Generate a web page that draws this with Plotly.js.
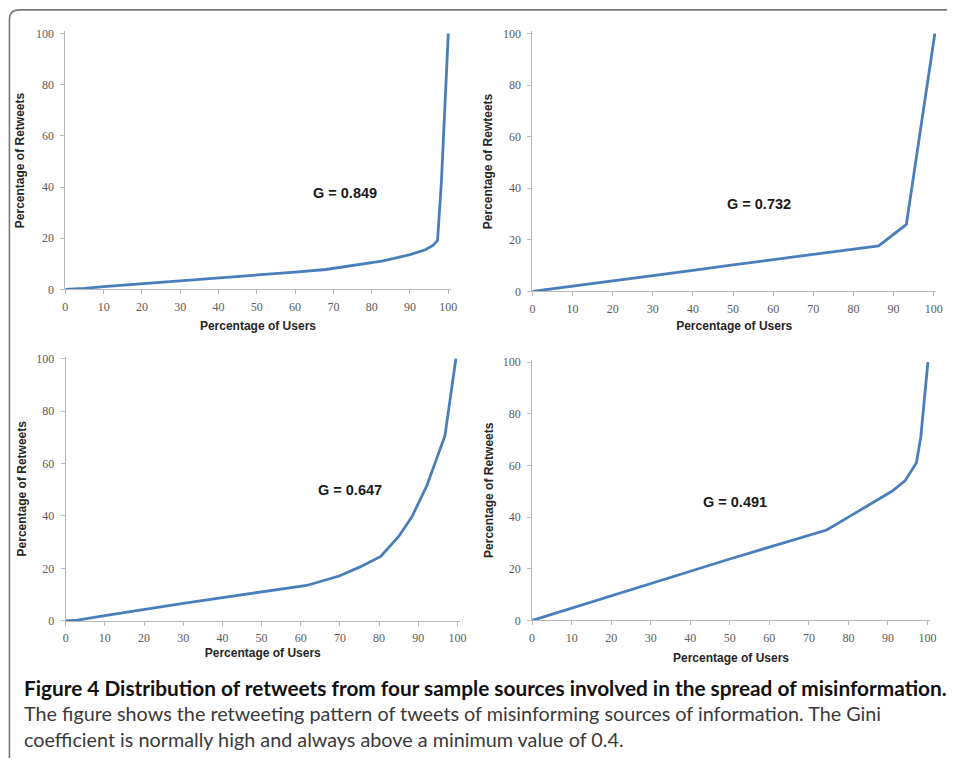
<!DOCTYPE html>
<html><head><meta charset="utf-8">
<script src="https://cdn.plot.ly/plotly-3.0.1.min.js"></script>
<style>html,body{margin:0;padding:0;background:#fff}#chart{width:954px;height:765px}</style>
</head><body><div id="chart"></div>
<script>
// ---------- data ----------
const xTickVals = [0, 10, 20, 30, 40, 50, 60, 70, 80, 90, 100];
const yTickVals = [0, 20, 40, 60, 80, 100];

const usersA    = [0, 5, 10, 20, 30, 40, 50, 60, 68, 75, 83, 90, 94, 96, 97.2, 98.2, 100];
const retweetsA = [0, 0.4, 1.1, 2.2, 3.4, 4.5, 5.6, 6.8, 7.8, 9.3, 11.2, 13.6, 15.5, 17.2, 19.2, 42, 100];

const usersB    = [0, 10, 20, 30, 40, 50, 60, 70, 80, 86.3, 93.2, 100.3];
const retweetsB = [0, 2.0, 4.1, 6.2, 8.2, 10.3, 12.3, 14.4, 16.4, 17.7, 26.0, 100];

const usersC    = [0, 3, 10, 20, 30, 40, 50, 61.5, 69.8, 75, 80.4, 85, 88.4, 92.2, 96.8, 99.6];
const retweetsC = [0, 0.3, 2.0, 4.4, 6.7, 8.9, 11.0, 13.5, 17.1, 20.5, 24.6, 32.2, 39.8, 51.6, 70.6, 100];

const usersD    = [0, 10, 20, 30, 40, 50, 60, 70, 74.5, 80, 85, 91, 94.3, 97.2, 98.3, 100.1];
const retweetsD = [0, 4.8, 9.6, 14.4, 19.2, 23.8, 28.4, 32.9, 35, 40, 44.7, 50, 54, 61, 71, 100];

const giniLabels = ['G = 0.849', 'G = 0.732', 'G = 0.647', 'G = 0.491'];
const xAxisTitle = 'Percentage of Users';
const yAxisTitles = ['Percentage of Retweets', 'Percentage of Rewteets', 'Percentage of Retweets', 'Percentage of Retweets'];

const captionBold = 'Figure 4 Distribution of retweets from four sample sources involved in the spread of misinformation.';
const captionLine2 = 'The figure shows the retweeting pattern of tweets of misinforming sources of information. The Gini';
const captionLine3 = 'coefficient is normally high and always above a minimum value of 0.4.';

// ---------- layout ----------
const W = 954, H = 765;
const series = [[usersA, retweetsA], [usersB, retweetsB], [usersC, retweetsC], [usersD, retweetsD]];
// pixel placement of each panel: x of 0 and 100, y of 0 and 100
const panels = [
  {px0: 63,    px100: 450,   py0: 289,   py100: 29,    xs: 8, ys: 8, gx: 73, gy: 37.5},
  {px0: 535,   px100: 940.5, py0: 291,   py100: 29,    xs: 6, ys: 7, gx: 56.5, gy: 34},
  {px0: 63.3,  px100: 459.3, py0: 625.7, py100: 359.3, xs: 4, ys: 7, gx: 72.5, gy: 50},
  {px0: 534.7, px100: 934.3, py0: 625.3, py100: 362.7, xs: 9, ys: 6, gx: 51.2, gy: 46}
];
const XEND = 100.6, YEND = 100.8;

const lineColor = '#4a7ebb';
const axisColor = '#b8b8b8';
const tickFont = {family: 'Liberation Serif, serif', size: 12, color: '#5c5c5c'};
const titleFont = {family: 'Liberation Sans, Arial, sans-serif', size: 12, color: '#262626', weight: 'bold'};

const data = [];
const layout = {
  width: W, height: H,
  margin: {l: 0, r: 0, t: 0, b: 0},
  paper_bgcolor: '#ffffff', plot_bgcolor: 'rgba(0,0,0,0)',
  showlegend: false,
  annotations: [],
  shapes: []
};

panels.forEach((p, i) => {
  const n = i === 0 ? '' : String(i + 1);
  const sx = (p.px100 - p.px0) / 100;
  const sy = (p.py0 - p.py100) / 100;
  const xEndPx = p.px0 + XEND * sx;
  const yEndPx = p.py0 - YEND * sy;
  data.push({
    type: 'scatter', mode: 'lines',
    x: series[i][0], y: series[i][1],
    xaxis: 'x' + n, yaxis: 'y' + n,
    line: {color: lineColor, width: 2.8},
    hoverinfo: 'x+y'
  });
  layout['xaxis' + n] = {
    domain: [p.px0 / W, xEndPx / W],
    anchor: 'y' + n,
    range: [0, XEND],
    tickmode: 'array', tickvals: xTickVals, ticktext: xTickVals.map(String),
    showline: true, linecolor: axisColor, linewidth: 1,
    ticks: 'outside', ticklen: 4, tickcolor: axisColor, tickwidth: 1,
    showgrid: false, zeroline: false,
    tickfont: tickFont, ticklabelstandoff: 2,
    automargin: true,
    title: {text: xAxisTitle, font: titleFont, standoff: p.xs},
    fixedrange: true
  };
  layout['yaxis' + n] = {
    domain: [1 - p.py0 / H, 1 - yEndPx / H],
    anchor: 'x' + n,
    range: [0, YEND],
    tickmode: 'array', tickvals: yTickVals, ticktext: yTickVals.map(String),
    showline: true, linecolor: axisColor, linewidth: 1,
    ticks: 'outside', ticklen: 4, tickcolor: axisColor, tickwidth: 1,
    showgrid: false, zeroline: false,
    tickfont: tickFont, ticklabelstandoff: 4,
    automargin: true,
    title: {text: yAxisTitles[i], font: titleFont, standoff: p.ys},
    fixedrange: true
  };
  layout.annotations.push({
    xref: 'x' + n, yref: 'y' + n, x: p.gx, y: p.gy,
    text: giniLabels[i], showarrow: false,
    font: {family: 'Liberation Sans, Arial, sans-serif', size: 14.5, color: '#1a1a1a', weight: 'bold'},
    xanchor: 'center', yanchor: 'middle'
  });
});

// caption
const capFont = 'Lato, "Open Sans", sans-serif';
layout.annotations.push(
  {xref: 'paper', yref: 'paper', x: 19 / W, y: 1 - 693 / H, xanchor: 'left', yanchor: 'middle',
   text: '<b>' + captionBold + '</b>', showarrow: false, align: 'left',
   font: {family: capFont, size: 20.8, color: '#111111'}},
  {xref: 'paper', yref: 'paper', x: 19 / W, y: 1 - 719 / H, xanchor: 'left', yanchor: 'middle',
   text: captionLine2, showarrow: false, align: 'left',
   font: {family: capFont, size: 19.8, color: '#3a3a3a'}},
  {xref: 'paper', yref: 'paper', x: 19 / W, y: 1 - 746 / H, xanchor: 'left', yanchor: 'middle',
   text: captionLine3, showarrow: false, align: 'left',
   font: {family: capFont, size: 19.8, color: '#3a3a3a'}}
);

// rounded frame (top-left corner)
const fx = 6.5 / W, fy = 1 - 5 / H, r = 10;
layout.shapes.push({
  type: 'path', xref: 'paper', yref: 'paper',
  path: 'M ' + fx + ',0 L ' + fx + ',' + (1 - (5 + r) / H) +
        ' Q ' + fx + ',' + fy + ' ' + ((6.5 + r) / W) + ',' + fy +
        ' L 1,' + fy,
  line: {color: '#7a7a7a', width: 1.6}
});

Plotly.newPlot('chart', data, layout, {displayModeBar: false, staticPlot: true});
</script>
</body></html>
